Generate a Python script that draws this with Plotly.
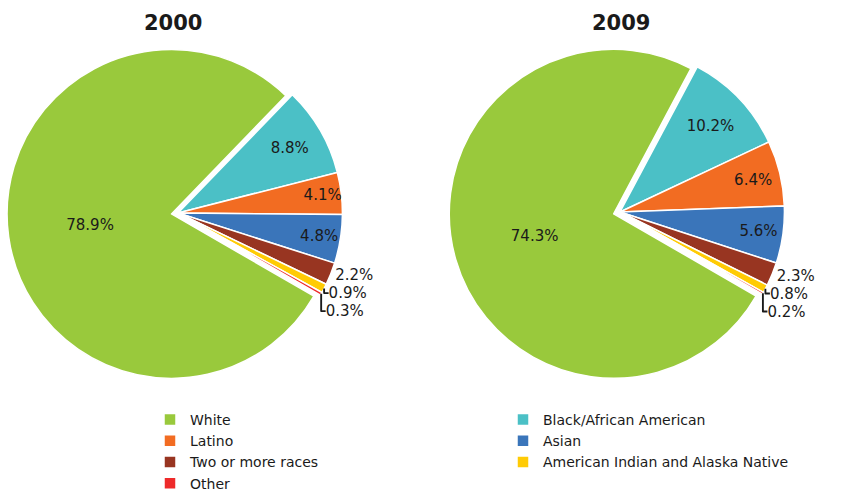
import plotly.graph_objects as go

groups = ["White", "Black/African American", "Latino", "Asian",
          "Two or more races", "American Indian and Alaska Native", "Other"]
values_2000 = [78.9, 8.8, 4.1, 4.8, 2.2, 0.9, 0.3]
values_2009 = [74.3, 10.2, 6.4, 5.6, 2.3, 0.8, 0.2]
years = ["2000", "2009"]

colors = ["#99C93C", "#4BC0C6", "#F26C22", "#3A75BA", "#983521", "#FFCB05", "#EE2A2A"]
positions = ["inside"] * 4 + ["outside"] * 3
pulls = [0.04, 0, 0, 0, 0, 0, 0]

FONT = "DejaVu Sans"
W, H = 842, 491

def px_domain(cx, cy, half):
    return dict(x=[(cx - half) / W, (cx + half) / W],
                y=[1 - (cy + half) / H, 1 - (cy - half) / H])

fig = go.Figure()
for vals, (cx, cy), show in [(values_2000, (178, 213), True), (values_2009, (620, 212), False)]:
    fig.add_trace(go.Pie(
        labels=groups, values=vals, sort=False, direction="clockwise",
        rotation=120, pull=pulls,
        marker=dict(colors=colors, line=dict(color="white", width=1.5)),
        textposition=positions, texttemplate="%{value:.1f}%",
        textfont=dict(family=FONT, size=15, color="#1a1a1a"),
        insidetextorientation="horizontal",
        domain=px_domain(cx, cy, 171),
        showlegend=show, hoverinfo="label+value",
    ))

for yr, x in zip(years, [173, 621]):
    fig.add_annotation(text="<b>" + yr + "</b>", x=x / W, y=1 - 22.5 / H,
                       xref="paper", yref="paper", xanchor="center", yanchor="middle",
                       showarrow=False, font=dict(family=FONT, size=21, color="#1a1a1a"))

fig.update_layout(
    width=W, height=H, margin=dict(l=0, r=0, t=0, b=0, autoexpand=False),
    paper_bgcolor="white", plot_bgcolor="white",
    font=dict(family=FONT, size=15, color="#1a1a1a"),
    uniformtext=dict(minsize=15, mode="show"),
    legend=dict(orientation="h", x=150 / W, xanchor="left", y=1 - 404 / H, yanchor="top",
                entrywidth=308, entrywidthmode="pixels", tracegroupgap=0, itemwidth=30,
                font=dict(family=FONT, size=14, color="#1a1a1a"), traceorder="normal"),
)
fig.write_html("out.html", config={"displayModeBar": False},
               post_script="document.body.style.margin='0px';")
